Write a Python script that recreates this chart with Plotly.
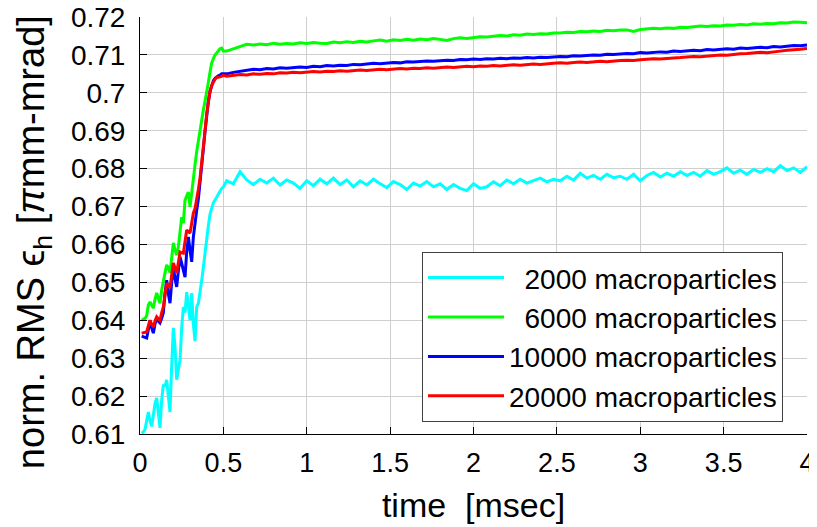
import numpy as np
import plotly.graph_objects as go

# ---- sample times [msec] ----
t_early = np.round(np.arange(0.01, 0.505, 0.01), 2)          # 0.01 .. 0.50
t_late = np.round(np.arange(0.52, 4.001, 0.04), 2)            # 0.52 .. 4.00
time = np.concatenate([t_early, t_late])

# ---- series (normalized RMS emittance, pi mm-mrad) ----
cyan_early = [0.6102, 0.6105, 0.6112, 0.6140, 0.6158, 0.6135, 0.6120, 0.6150, 0.6180, 0.6195,
              0.6150, 0.6116, 0.6190, 0.6230, 0.6225, 0.6243, 0.6200, 0.6158, 0.6280, 0.6380,
              0.6330, 0.6243, 0.6270, 0.6295, 0.6380, 0.6435, 0.6420, 0.6474, 0.6440, 0.6400,
              0.6472, 0.6390, 0.6345, 0.6435, 0.6445, 0.6470, 0.6505, 0.6540, 0.6580, 0.6620,
              0.6650, 0.6680, 0.6695, 0.6710, 0.6717, 0.6725, 0.6735, 0.6742, 0.6748, 0.6752]
cyan_late = [0.6768, 0.6760, 0.6792, 0.6770, 0.6758, 0.6772, 0.6762, 0.6775, 0.6757, 0.6770,
             0.6762, 0.6748, 0.6768, 0.6755, 0.6772, 0.6760, 0.6775, 0.6758, 0.6770, 0.6752,
             0.6768, 0.6757, 0.6772, 0.6760, 0.6750, 0.6766, 0.6758, 0.6745, 0.6762, 0.6754,
             0.6766, 0.6752, 0.6760, 0.6745, 0.6758, 0.6748, 0.6742, 0.6760, 0.6748, 0.6752,
             0.6765, 0.6755, 0.6770, 0.6760, 0.6772, 0.6762, 0.6768, 0.6775, 0.6765, 0.6772,
             0.6768, 0.6780, 0.6770, 0.6788, 0.6775, 0.6782, 0.6772, 0.6785, 0.6776, 0.6780,
             0.6772, 0.6785, 0.6768, 0.6782, 0.6790, 0.6778, 0.6788, 0.6780, 0.6792, 0.6782,
             0.6790, 0.6780, 0.6795, 0.6785, 0.6792, 0.6802, 0.6788, 0.6796, 0.6785, 0.6798,
             0.6790, 0.6800, 0.6792, 0.6808, 0.6795, 0.6802, 0.6790, 0.6805]

green_early = [0.6400, 0.6402, 0.6405, 0.6412, 0.6440, 0.6448, 0.6438, 0.6432, 0.6455, 0.6472,
               0.6458, 0.6445, 0.6480, 0.6506, 0.6525, 0.6546, 0.6538, 0.6525, 0.6570, 0.6604,
               0.6585, 0.6572, 0.6593, 0.6640, 0.6672, 0.6656, 0.6717, 0.6728, 0.6738, 0.6699,
               0.6740, 0.6775, 0.6810, 0.6845, 0.6875, 0.6902, 0.6930, 0.6955, 0.6978, 0.7000,
               0.7028, 0.7055, 0.7079, 0.7090, 0.7100, 0.7105, 0.7112, 0.7116, 0.7118, 0.7110]
green_late = [0.7110, 0.7116, 0.7124, 0.7128, 0.7126, 0.7129, 0.7127, 0.7131, 0.7128, 0.7130,
              0.7129, 0.7132, 0.7130, 0.7133, 0.7131, 0.7130, 0.7134, 0.7132, 0.7135, 0.7133,
              0.7136, 0.7134, 0.7137, 0.7139, 0.7136, 0.7140, 0.7138, 0.7141, 0.7139, 0.7142,
              0.7140, 0.7143, 0.7141, 0.7138, 0.7143, 0.7145, 0.7143, 0.7146, 0.7148, 0.7147,
              0.7149, 0.7151, 0.7150, 0.7153, 0.7152, 0.7155, 0.7154, 0.7156, 0.7155, 0.7158,
              0.7158, 0.7160, 0.7159, 0.7162, 0.7161, 0.7163, 0.7162, 0.7165, 0.7164, 0.7166,
              0.7166, 0.7162, 0.7167, 0.7168, 0.7170, 0.7169, 0.7171, 0.7170, 0.7173, 0.7172,
              0.7174, 0.7176, 0.7175, 0.7177, 0.7176, 0.7179, 0.7178, 0.7180, 0.7179, 0.7182,
              0.7181, 0.7183, 0.7182, 0.7185, 0.7184, 0.7187, 0.7186, 0.7185]

blue_early = [0.6358, 0.6356, 0.6354, 0.6353, 0.6375, 0.6400, 0.6380, 0.6366, 0.6390, 0.6406,
              0.6398, 0.6393, 0.6405, 0.6420, 0.6470, 0.6506, 0.6470, 0.6445, 0.6500, 0.6540,
              0.6510, 0.6488, 0.6530, 0.6567, 0.6550, 0.6530, 0.6514, 0.6580, 0.6620, 0.6585,
              0.6554, 0.6620, 0.6664, 0.6690, 0.6720, 0.6760, 0.6805, 0.6852, 0.6898, 0.6942,
              0.6978, 0.7003, 0.7020, 0.7032, 0.7038, 0.7042, 0.7045, 0.7047, 0.7050, 0.7050]
blue_late = [0.7050, 0.7054, 0.7057, 0.7060, 0.7062, 0.7061, 0.7064, 0.7063, 0.7066, 0.7065,
             0.7067, 0.7068, 0.7067, 0.7070, 0.7069, 0.7072, 0.7071, 0.7073, 0.7072, 0.7075,
             0.7074, 0.7076, 0.7078, 0.7077, 0.7079, 0.7080, 0.7079, 0.7082, 0.7081, 0.7083,
             0.7084, 0.7083, 0.7085, 0.7086, 0.7085, 0.7088, 0.7087, 0.7089, 0.7088, 0.7090,
             0.7089, 0.7091, 0.7090, 0.7092, 0.7091, 0.7093, 0.7092, 0.7094, 0.7093, 0.7095,
             0.7096, 0.7095, 0.7098, 0.7097, 0.7099, 0.7100, 0.7099, 0.7102, 0.7101, 0.7103,
             0.7104, 0.7103, 0.7106, 0.7105, 0.7107, 0.7108, 0.7107, 0.7110, 0.7109, 0.7111,
             0.7112, 0.7111, 0.7114, 0.7113, 0.7115, 0.7116, 0.7115, 0.7118, 0.7117, 0.7119,
             0.7120, 0.7119, 0.7122, 0.7121, 0.7123, 0.7125, 0.7124, 0.7126]

red_early = [0.6366, 0.6367, 0.6368, 0.6369, 0.6385, 0.6400, 0.6390, 0.6382, 0.6398, 0.6409,
             0.6404, 0.6400, 0.6420, 0.6435, 0.6468, 0.6498, 0.6492, 0.6485, 0.6520, 0.6551,
             0.6538, 0.6525, 0.6552, 0.6580, 0.6578, 0.6577, 0.6608, 0.6638, 0.6634, 0.6630,
             0.6656, 0.6683, 0.6695, 0.6717, 0.6745, 0.6775, 0.6812, 0.6855, 0.6900, 0.6945,
             0.6980, 0.7005, 0.7020, 0.7030, 0.7036, 0.7040, 0.7040, 0.7042, 0.7044, 0.7046]
red_late = [0.7044, 0.7046, 0.7048, 0.7047, 0.7050, 0.7049, 0.7051, 0.7050, 0.7053, 0.7052,
            0.7054, 0.7053, 0.7055, 0.7056, 0.7055, 0.7057, 0.7056, 0.7058, 0.7057, 0.7059,
            0.7060, 0.7059, 0.7061, 0.7062, 0.7061, 0.7063, 0.7064, 0.7063, 0.7065, 0.7064,
            0.7066, 0.7065, 0.7067, 0.7068, 0.7067, 0.7069, 0.7070, 0.7069, 0.7071, 0.7070,
            0.7072, 0.7071, 0.7073, 0.7074, 0.7073, 0.7075, 0.7076, 0.7075, 0.7077, 0.7078,
            0.7079, 0.7078, 0.7080, 0.7081, 0.7080, 0.7082, 0.7083, 0.7082, 0.7084, 0.7085,
            0.7086, 0.7085, 0.7087, 0.7088, 0.7090, 0.7089, 0.7091, 0.7092, 0.7093, 0.7095,
            0.7096, 0.7095, 0.7097, 0.7099, 0.7100, 0.7099, 0.7102, 0.7103, 0.7104, 0.7106,
            0.7107, 0.7106, 0.7109, 0.7110, 0.7112, 0.7113, 0.7115, 0.7117]

series_names = ["  2000 macroparticles", "  6000 macroparticles",
                "10000 macroparticles", "20000 macroparticles"]
series_values = [cyan_early + cyan_late, green_early + green_late,
                 blue_early + blue_late, red_early + red_late]
series_colors = ["#00FFFF", "#00FF00", "#0000FF", "#FF0000"]

x_tickvals = [0, 0.5, 1, 1.5, 2, 2.5, 3, 3.5, 4]
x_ticktext = ["0", "0.5", "1", "1.5", "2", "2.5", "3", "3.5", "4"]
y_tickvals = [0.61, 0.62, 0.63, 0.64, 0.65, 0.66, 0.67, 0.68, 0.69, 0.70, 0.71, 0.72]
y_ticktext = ["0.61", "0.62", "0.63", "0.64", "0.65", "0.66", "0.67", "0.68", "0.69",
              "0.7", "0.71", "0.72"]
x_title = "time  [msec]"
y_title = "norm. RMS \u03f5<sub>h</sub> [<i>\u03c0</i>mm-mrad]"

FONT = "Liberation Sans, Arial, sans-serif"

fig = go.Figure()
for name, vals, col in zip(series_names, series_values, series_colors):
    fig.add_trace(go.Scatter(x=time, y=vals, mode="lines", name=name,
                             line=dict(color=col, width=3)))

# page body has an 8px margin; size the figure so the plot area lands at
# x 140..807, y 17..434 of the 817x527 window
fig.update_layout(
    width=809, height=519,
    margin=dict(l=132, r=10, t=9, b=93),
    paper_bgcolor="white", plot_bgcolor="white",
    font=dict(family=FONT, color="black"),
    showlegend=True,
    legend=dict(x=0.964, y=0.029, xanchor="right", yanchor="bottom",
                bgcolor="white", bordercolor="#404040", borderwidth=1,
                font=dict(family=FONT, size=28, color="black"),
                itemwidth=76, tracegroupgap=0),
    annotations=[dict(text=y_title, textangle=-90, showarrow=False,
                      xref="paper", yref="paper", x=-0.159, y=0.46,
                      xanchor="center", yanchor="middle",
                      font=dict(family=FONT, size=38, color="black"))],
)
fig.update_xaxes(
    range=[0, 4], tickvals=x_tickvals, ticktext=x_ticktext, automargin=False,
    ticklabeloverflow="allow", ticklabelstandoff=5,
    tickfont=dict(size=27), ticks="inside", ticklen=7, tickcolor="black",
    showline=True, linecolor="black", linewidth=1,
    showgrid=True, gridcolor="#cfcfcf", gridwidth=1, zeroline=False,
    title=dict(text=x_title, font=dict(size=34), standoff=15),
)
fig.update_yaxes(
    range=[0.61, 0.72], tickvals=y_tickvals, ticktext=y_ticktext, automargin=False,
    ticklabeloverflow="allow", ticklabelstandoff=8,
    tickfont=dict(size=28), ticks="inside", ticklen=7, tickcolor="black",
    showline=True, linecolor="black", linewidth=1,
    showgrid=True, gridcolor="#cfcfcf", gridwidth=1, zeroline=False,
)

fig.write_html("out.html")
